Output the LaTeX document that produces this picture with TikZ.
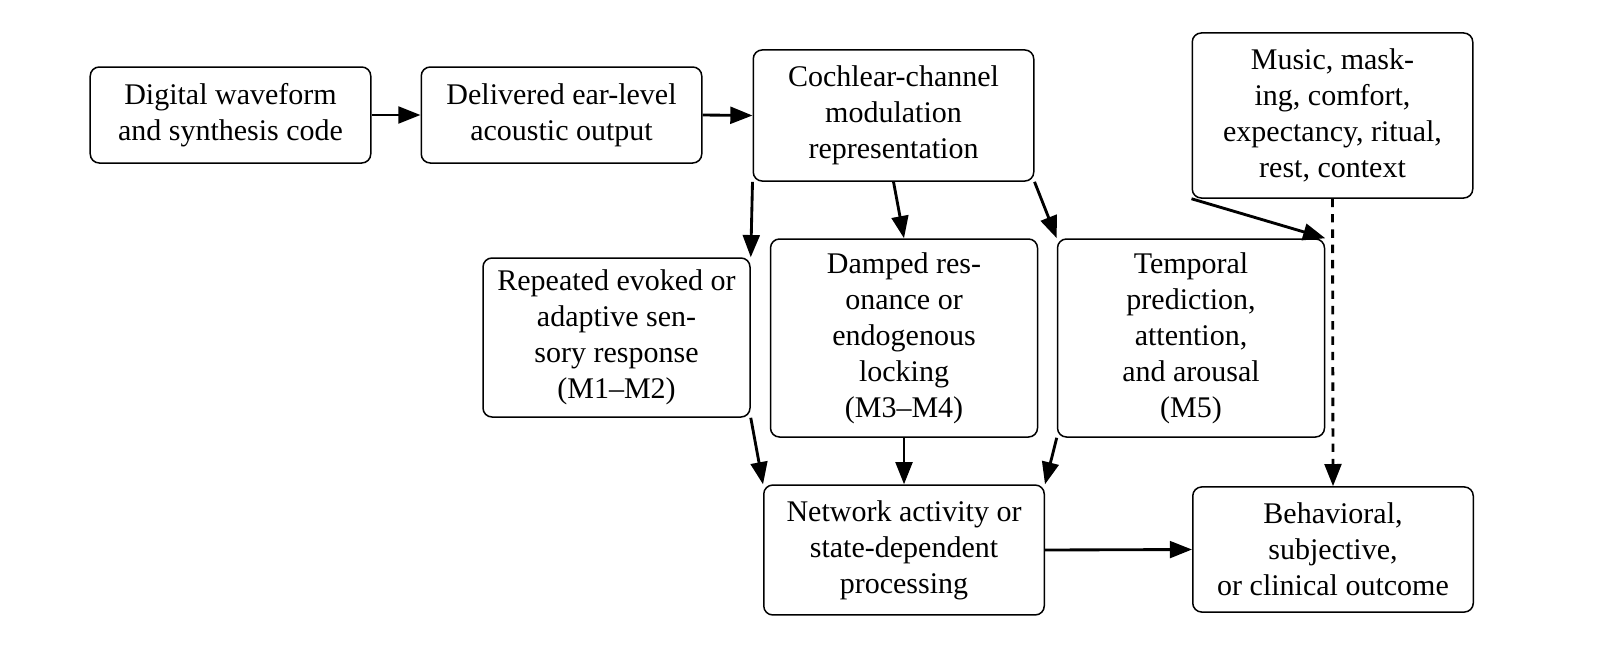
\documentclass[tikz,border=0pt]{standalone}
\usepackage{fontspec}
\setmainfont{Liberation Serif}
\usetikzlibrary{arrows.meta}

\begin{document}
\begin{tikzpicture}[x=0.33333pt, y=0.33333pt,
  box/.style={draw, line width=0.5pt, rounded corners=3pt, align=center,
              inner sep=3pt, font=\fontsize{10}{12}\selectfont},
  wide/.style={box, minimum width=93.5pt},
  narrow/.style={box, minimum width=89pt},
  flow/.style={line width=0.95pt, -{Triangle[length=7.4pt,width=5.6pt]}},
  hint/.style={flow, dash pattern=on 2.8pt off 2.3pt}
]
\useasboundingbox (0,0) rectangle (1600,-648);

% top row: signal chain
\node[wide, minimum height=32pt] (wave) at (230.5,-115) {Digital waveform\\and synthesis code};
\node[wide, minimum height=32pt] (ear) at (561.5,-115) {Delivered ear-level\\acoustic output};
\node[wide, minimum height=43.7pt] (coch) at (893.5,-115.5) {Cochlear-channel\\modulation\\representation};
\node[wide, minimum height=55pt] (ctx) at (1332.5,-115.5) {Music, mask-\\ing, comfort,\\expectancy, ritual,\\rest, context};

% middle row: candidate mechanisms
\node[narrow, minimum height=53pt] (evoked) at (616.5,-337.5) {Repeated evoked or\\adaptive sen-\\sory response\\(M1--M2)};
\node[narrow, minimum height=66pt] (reson) at (904,-338) {Damped res-\\onance or\\endogenous\\locking\\(M3--M4)};
\node[narrow, minimum height=66pt] (pred) at (1191,-338) {Temporal\\prediction,\\attention,\\and arousal\\(M5)};

% bottom row: network and outcome
\node[wide, minimum height=43.3pt] (net) at (904,-550) {Network activity or\\state-dependent\\processing};
\node[wide, minimum height=41.7pt] (out) at (1333,-549.5) {Behavioral,\\subjective,\\or clinical outcome};

% connectors
\draw[flow] (wave.east) -- (ear.west);
\draw[flow] (ear.east) -- (coch.west);
\draw[flow] (coch.south west) -- (evoked.north east);
\draw[flow] (coch.south) -- (reson.north);
\draw[flow] (coch.south east) -- (pred.north west);
\draw[flow] (ctx.south west) -- (pred.north east);
\draw[hint] (ctx.south) -- (out.north);
\draw[flow] (evoked.south east) -- (net.north west);
\draw[flow] (reson.south) -- (net.north);
\draw[flow] (pred.south west) -- (net.north east);
\draw[flow] (net.east) -- (out.west);
\end{tikzpicture}
\end{document}
